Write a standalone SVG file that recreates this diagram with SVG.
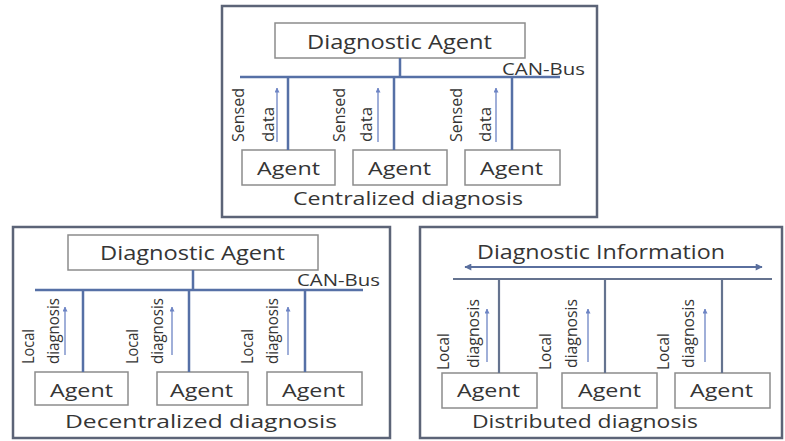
<svg xmlns="http://www.w3.org/2000/svg" width="785" height="441" viewBox="0 0 785 441">
  <defs>
    <marker id="tip" viewBox="0 0 10 10" refX="9" refY="5" markerWidth="5" markerHeight="5" orient="auto-start-reverse" markerUnits="userSpaceOnUse">
      <path d="M0,0 L10,5 L0,10 z" fill="#6d84c4"/>
    </marker>
    <marker id="tipBig" viewBox="0 0 10 10" refX="9" refY="5" markerWidth="8" markerHeight="7" orient="auto-start-reverse" markerUnits="userSpaceOnUse">
      <path d="M0,0 L10,5 L0,10 z" fill="#5a6f9e"/>
    </marker>
  </defs>
  <style>
    .panel { fill: #ffffff; stroke: #5c6477; stroke-width: 2.5; }
    .box { fill: #ffffff; stroke: #8c8c8c; stroke-width: 1.5; }
    .bus { fill: none; stroke: #5670a6; stroke-width: 2.5; }
    .busg { fill: none; stroke: #65738f; stroke-width: 2.2; }
    .flow { fill: none; stroke: #6d84c4; stroke-width: 1.3; marker-end: url(#tip); }
    .t { font-family: "Open Sans", "Liberation Sans", sans-serif; fill: #353535; }
    .big { font-size: 20px; }
    .mid { font-size: 19px; }
    .bus-l { font-size: 16px; }
    .side { font-size: 17px; }
  </style>
  <rect width="785" height="441" fill="#ffffff"/>

  <!-- Centralized panel -->
  <g id="centralized">
    <rect class="panel" x="222" y="6" width="375" height="211"/>
    <g id="c-diag">
      <rect class="box" x="275" y="23" width="250" height="35"/>
      <text class="t big" x="307" y="49" textLength="185" lengthAdjust="spacingAndGlyphs">Diagnostic Agent</text>
    </g>
    <g id="c-agent1">
      <rect class="box" x="242" y="150" width="93" height="35"/>
      <text class="t mid" x="257" y="175" textLength="63" lengthAdjust="spacingAndGlyphs">Agent</text>
    </g>
    <g id="c-agent2">
      <rect class="box" x="353" y="150" width="94" height="35"/>
      <text class="t mid" x="368" y="175" textLength="63" lengthAdjust="spacingAndGlyphs">Agent</text>
    </g>
    <g id="c-agent3">
      <rect class="box" x="465" y="150" width="95" height="35"/>
      <text class="t mid" x="480" y="175" textLength="63" lengthAdjust="spacingAndGlyphs">Agent</text>
    </g>
    <g id="c-connectors">
      <path class="bus" d="M400,58 V77 M240,77 H560 M288,77 V150 M394,77 V150 M512,77 V150"/>
      <line class="flow" x1="277" y1="142" x2="277" y2="88"/>
      <line class="flow" x1="378" y1="142" x2="378" y2="88"/>
      <line class="flow" x1="496" y1="142" x2="496" y2="88"/>
    </g>
    <text class="t bus-l" x="502" y="75" textLength="83" lengthAdjust="spacingAndGlyphs">CAN-Bus</text>
    <g class="t side">
      <text transform="translate(244,142) rotate(-90)" textLength="54" lengthAdjust="spacingAndGlyphs">Sensed</text>
      <text transform="translate(274,142) rotate(-90)" textLength="35" lengthAdjust="spacingAndGlyphs">data</text>
      <text transform="translate(345,142) rotate(-90)" textLength="54" lengthAdjust="spacingAndGlyphs">Sensed</text>
      <text transform="translate(372,142) rotate(-90)" textLength="35" lengthAdjust="spacingAndGlyphs">data</text>
      <text transform="translate(462,142) rotate(-90)" textLength="54" lengthAdjust="spacingAndGlyphs">Sensed</text>
      <text transform="translate(491,142) rotate(-90)" textLength="35" lengthAdjust="spacingAndGlyphs">data</text>
    </g>
    <text class="t mid" x="293" y="205" textLength="230" lengthAdjust="spacingAndGlyphs">Centralized diagnosis</text>
  </g>

  <!-- Decentralized panel -->
  <g id="decentralized">
    <rect class="panel" x="13" y="227" width="377" height="211"/>
    <g id="d-diag">
      <rect class="box" x="68" y="235" width="250" height="35"/>
      <text class="t big" x="100" y="260" textLength="185" lengthAdjust="spacingAndGlyphs">Diagnostic Agent</text>
    </g>
    <g id="d-agent1">
      <rect class="box" x="35" y="372" width="93" height="33"/>
      <text class="t mid" x="50" y="397" textLength="63" lengthAdjust="spacingAndGlyphs">Agent</text>
    </g>
    <g id="d-agent2">
      <rect class="box" x="157" y="372" width="91" height="33"/>
      <text class="t mid" x="170" y="397" textLength="63" lengthAdjust="spacingAndGlyphs">Agent</text>
    </g>
    <g id="d-agent3">
      <rect class="box" x="267" y="372" width="95" height="33"/>
      <text class="t mid" x="282" y="397" textLength="63" lengthAdjust="spacingAndGlyphs">Agent</text>
    </g>
    <g id="d-connectors">
      <path class="bus" d="M193,270 V290 M35,290 H363 M83,290 V372 M189,290 V372 M305,290 V372"/>
      <line class="flow" x1="65" y1="355" x2="65" y2="307"/>
      <line class="flow" x1="172" y1="355" x2="172" y2="307"/>
      <line class="flow" x1="288" y1="355" x2="288" y2="307"/>
    </g>
    <text class="t bus-l" x="297" y="286" textLength="83" lengthAdjust="spacingAndGlyphs">CAN-Bus</text>
    <g class="t side">
      <text transform="translate(34,364) rotate(-90)" textLength="35" lengthAdjust="spacingAndGlyphs">Local</text>
      <text transform="translate(59,364) rotate(-90)" textLength="66" lengthAdjust="spacingAndGlyphs">diagnosis</text>
      <text transform="translate(138,364) rotate(-90)" textLength="35" lengthAdjust="spacingAndGlyphs">Local</text>
      <text transform="translate(163,364) rotate(-90)" textLength="66" lengthAdjust="spacingAndGlyphs">diagnosis</text>
      <text transform="translate(253,364) rotate(-90)" textLength="35" lengthAdjust="spacingAndGlyphs">Local</text>
      <text transform="translate(278,364) rotate(-90)" textLength="66" lengthAdjust="spacingAndGlyphs">diagnosis</text>
    </g>
    <text class="t mid" x="65" y="428" textLength="272" lengthAdjust="spacingAndGlyphs">Decentralized diagnosis</text>
  </g>

  <!-- Distributed panel -->
  <g id="distributed">
    <rect class="panel" x="420" y="227" width="362" height="211"/>
    <text class="t big" x="477" y="259" textLength="248" lengthAdjust="spacingAndGlyphs">Diagnostic Information</text>
    <g id="r-agent1">
      <rect class="box" x="442" y="373" width="95" height="35"/>
      <text class="t mid" x="457" y="397" textLength="63" lengthAdjust="spacingAndGlyphs">Agent</text>
    </g>
    <g id="r-agent2">
      <rect class="box" x="562" y="373" width="95" height="35"/>
      <text class="t mid" x="578" y="397" textLength="63" lengthAdjust="spacingAndGlyphs">Agent</text>
    </g>
    <g id="r-agent3">
      <rect class="box" x="675" y="373" width="95" height="35"/>
      <text class="t mid" x="690" y="397" textLength="63" lengthAdjust="spacingAndGlyphs">Agent</text>
    </g>
    <g id="r-connectors">
      <line x1="465" y1="267" x2="762" y2="267" stroke="#5a6f9e" stroke-width="2" marker-start="url(#tipBig)" marker-end="url(#tipBig)"/>
      <path class="busg" d="M453,279 H772 M499,279 V373 M605,279 V373 M722,279 V373"/>
      <line class="flow" x1="487" y1="362" x2="487" y2="309"/>
      <line class="flow" x1="588" y1="362" x2="588" y2="309"/>
      <line class="flow" x1="705" y1="362" x2="705" y2="309"/>
    </g>
    <g class="t side">
      <text transform="translate(449,370) rotate(-90)" textLength="37" lengthAdjust="spacingAndGlyphs">Local</text>
      <text transform="translate(479,368) rotate(-90)" textLength="69" lengthAdjust="spacingAndGlyphs">diagnosis</text>
      <text transform="translate(551,370) rotate(-90)" textLength="37" lengthAdjust="spacingAndGlyphs">Local</text>
      <text transform="translate(577,368) rotate(-90)" textLength="69" lengthAdjust="spacingAndGlyphs">diagnosis</text>
      <text transform="translate(669,370) rotate(-90)" textLength="37" lengthAdjust="spacingAndGlyphs">Local</text>
      <text transform="translate(694,368) rotate(-90)" textLength="69" lengthAdjust="spacingAndGlyphs">diagnosis</text>
    </g>
    <text class="t mid" x="472" y="428" textLength="226" lengthAdjust="spacingAndGlyphs">Distributed diagnosis</text>
  </g>
</svg>
